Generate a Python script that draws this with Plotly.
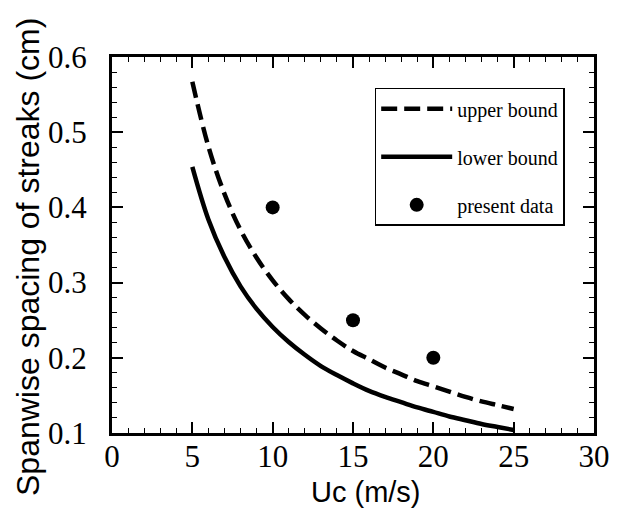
import plotly.graph_objects as go

# Data
uc = [5, 6, 7, 8, 9, 10, 11, 12, 13, 14, 15, 16, 17, 18, 19, 20, 21, 22, 23, 24, 25]
upper_bound = [0.567, 0.481, 0.418, 0.370, 0.333, 0.303, 0.278, 0.257, 0.239, 0.223, 0.209,
               0.198, 0.187, 0.178, 0.169, 0.162, 0.155, 0.148, 0.142, 0.137, 0.132]
lower_bound = [0.454, 0.384, 0.334, 0.295, 0.265, 0.241, 0.221, 0.204, 0.189, 0.177, 0.166,
               0.156, 0.148, 0.141, 0.134, 0.128, 0.122, 0.117, 0.112, 0.108, 0.104]
data_uc = [10, 15, 20]
data_spacing = [0.40, 0.25, 0.20]

x_ticks = [0, 5, 10, 15, 20, 25, 30]
y_ticks = [0.1, 0.2, 0.3, 0.4, 0.5, 0.6]

fig = go.Figure()
fig.add_trace(go.Scatter(x=uc, y=upper_bound, mode="lines", name="upper bound",
                         legendgroup="a",
                         line=dict(color="black", width=4.5, dash="16px,7px", shape="spline")))
fig.add_trace(go.Scatter(x=uc, y=lower_bound, mode="lines", name="lower bound",
                         legendgroup="b",
                         line=dict(color="black", width=4.5, shape="spline")))
fig.add_trace(go.Scatter(x=data_uc, y=data_spacing, mode="markers", name="present data",
                         legendgroup="c",
                         marker=dict(color="black", size=14, symbol="circle")))

xaxis = dict(
    range=[0, 30], tickvals=x_ticks, tickfont=dict(size=31, color="black"),
    showline=True, linecolor="black", linewidth=3, mirror="ticks",
    ticks="inside", ticklen=11, tickwidth=1.5, tickcolor="black",
    showgrid=False, zeroline=False, automargin=False, ticklabelstandoff=-6,
    minor=dict(dtick=1, ticks="inside", ticklen=5, tickwidth=1.2, tickcolor="black",
               showgrid=False),
)
yaxis = dict(
    range=[0.1, 0.6], tickvals=y_ticks, tickformat=".1f", tickfont=dict(size=31, color="black"),
    showline=True, linecolor="black", linewidth=3, mirror="ticks",
    ticks="inside", ticklen=11, tickwidth=1.5, tickcolor="black",
    showgrid=False, zeroline=False, ticklabelstandoff=16, automargin=False,
    minor=dict(dtick=0.02, ticks="inside", ticklen=5, tickwidth=1.2, tickcolor="black",
               showgrid=False),
)

fig.update_layout(
    width=618, height=508,
    margin=dict(l=112, r=24, t=57, b=75),
    paper_bgcolor="white", plot_bgcolor="white",
    font=dict(family="Liberation Serif", size=31, color="black"),
    xaxis=xaxis, yaxis=yaxis,
    showlegend=True,
    legend=dict(x=0.545, y=0.918, xanchor="left", yanchor="top",
                bgcolor="white", bordercolor="black", borderwidth=1.5,
                font=dict(family="Liberation Serif", size=20, color="black"),
                itemwidth=71, tracegroupgap=19),
    annotations=[
        dict(text="Spanwise spacing of streaks (cm)", xref="paper", yref="paper",
             x=0, y=0.5, xanchor="center", yanchor="middle", textangle=-90,
             xshift=-84, yshift=-12, showarrow=False,
             font=dict(family="Liberation Sans", size=32, color="black")),
        dict(text="Uc (m/s)", xref="paper", yref="paper",
             x=0.5, y=0, xanchor="center", yanchor="middle",
             xshift=13, yshift=-59, showarrow=False,
             font=dict(family="Liberation Sans", size=29, color="black")),
    ],
)

fig.write_html("out.html")
